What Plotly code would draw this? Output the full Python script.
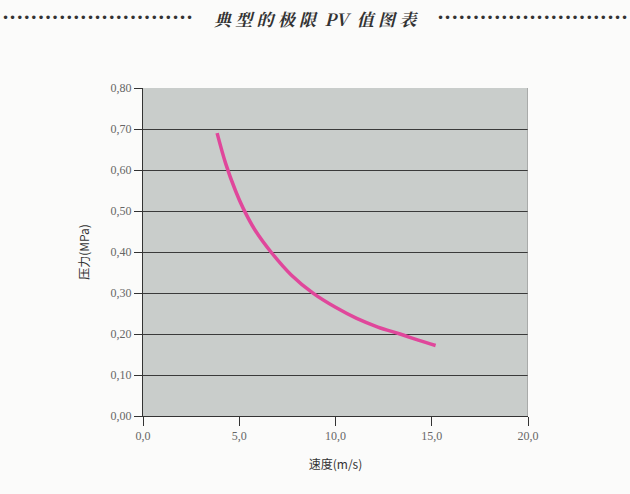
import plotly.graph_objects as go

speed = [3.85, 4.3, 4.8, 5.2, 5.8, 6.7, 7.7, 8.85, 10.0, 11.1, 12.2, 13.35, 14.3, 15.2]
pressure = [0.69, 0.615, 0.55, 0.507, 0.455, 0.397, 0.344, 0.299, 0.265, 0.238, 0.217, 0.200, 0.185, 0.172]

x_tickvals = [0, 5, 10, 15, 20]
x_ticktext = ["0,0", "5,0", "10,0", "15,0", "20,0"]
y_tickvals = [0, 0.1, 0.2, 0.3, 0.4, 0.5, 0.6, 0.7, 0.8]
y_ticktext = ["0,00", "0,10", "0,20", "0,30", "0,40", "0,50", "0,60", "0,70", "0,80"]

title_text = "<b><i>典 型 的 极 限  PV  值 图 表</i></b>"
x_title = "速度(m/s)"
y_title = "压力(MPa)"

fig = go.Figure()
fig.add_trace(go.Scatter(
    x=speed, y=pressure, mode="lines",
    line=dict(color="#e0479b", width=3.5, shape="spline"),
    hoverinfo="skip", showlegend=False,
))

fig.update_layout(
    width=630, height=494,
    margin=dict(l=143, r=102, t=88, b=78),
    paper_bgcolor="#fbfbfa",
    plot_bgcolor="#c9cdcb",
    showlegend=False,
    xaxis=dict(
        range=[0, 20], tickvals=x_tickvals, ticktext=x_ticktext,
        showgrid=False, zeroline=False,
        showline=True, linecolor="#333", linewidth=1,
        ticks="outside", ticklen=9, tickcolor="#333",
        tickfont=dict(family="Liberation Serif", size=12, color="#666"),
        title=dict(text=x_title, font=dict(family="Noto Sans CJK SC", size=12, color="#333"), standoff=18),
        fixedrange=True,
    ),
    yaxis=dict(
        range=[0, 0.8], tickvals=y_tickvals, ticktext=y_ticktext,
        showgrid=True, gridcolor="#3a3a3a", gridwidth=1,
        zeroline=False,
        showline=True, linecolor="#333", linewidth=1,
        ticks="outside", ticklen=8, tickcolor="#333",
        tickfont=dict(family="Liberation Serif", size=12, color="#666"),
        title=dict(text=y_title, font=dict(family="Noto Sans CJK SC", size=12, color="#333"), standoff=18),
        fixedrange=True,
    ),
)

fig.add_shape(type="line", xref="x", yref="paper", x0=20, x1=20, y0=0, y1=1,
              line=dict(color="#888", width=1))

dots = "•" * 27
fig.add_annotation(text=title_text, xref="paper", yref="paper", x=0.5, y=1,
                   xanchor="center", yanchor="middle",
                   xshift=316 - (143 + 385 / 2), yshift=88 - 18,
                   showarrow=False,
                   font=dict(family="Noto Serif CJK SC, Noto Sans CJK SC", size=17, color="#333"))
fig.add_annotation(text=dots, xref="paper", yref="paper", x=0, y=1,
                   xanchor="left", yanchor="middle", xshift=-143, yshift=88 - 18,
                   showarrow=False, font=dict(family="DejaVu Sans", size=12, color="#333"))
fig.add_annotation(text=dots, xref="paper", yref="paper", x=1, y=1,
                   xanchor="right", yanchor="middle", xshift=102, yshift=88 - 18,
                   showarrow=False, font=dict(family="DejaVu Sans", size=12, color="#333"))

fig.write_html("out.html", config={"displayModeBar": False},
               post_script="document.body.style.margin='0';document.body.style.overflow='hidden';")
